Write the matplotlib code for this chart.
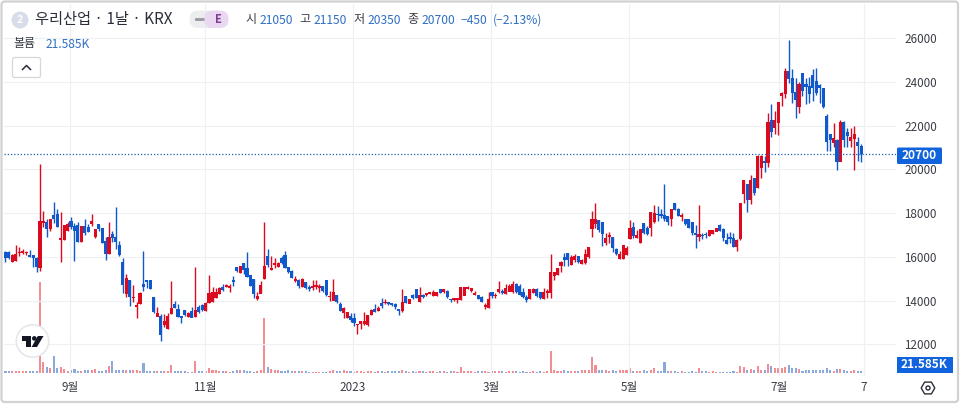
import matplotlib
matplotlib.use("Agg")
import matplotlib.pyplot as plt
from matplotlib.patches import Circle, FancyBboxPatch, Polygon, Rectangle
import numpy as np

plt.rcParams['font.family'] = ['Noto Sans CJK KR', 'DejaVu Sans']

# daily candles
open_p = [16210, 16210, 15790, 15830, 16170, 16210, 16170, 16090, 16060, 15950,
          15500, 17560, 17560, 17280, 17890, 17940, 16790, 16790, 17200, 17630,
          17390, 17430, 16700, 17400, 17360, 17510, 16900, 17470, 17330, 16720,
          16140, 17050, 16900, 16550, 15760, 14300, 14950, 14120, 13730, 13850,
          14760, 14950, 14930, 14150, 13280, 13280, 12890, 12730, 13390, 13850,
          13620, 13280, 13540, 13280, 13510, 13270, 13690, 13800, 13540, 13890,
          13950, 14150, 14300, 14610, 14660, 14600, 14950, 15530, 15270, 15710,
          15480, 15140, 14990, 14080, 14340, 14990, 16030, 15420, 15660, 15530,
          15940, 16090, 15530, 15330, 14930, 14950, 14630, 14840, 14610, 14600,
          14640, 14600, 14640, 14930, 14170, 14010, 14270, 13820, 13450, 13240,
          13270, 13220, 12880, 12960, 12960, 12880, 13360, 13600, 13530, 13880,
          13890, 13910, 13860, 13820, 13630, 13560, 14180, 13880, 14270, 14500,
          13940, 14260, 14270, 14320, 14240, 14210, 14500, 14410, 14440, 14080,
          14050, 14030, 14030, 14240, 14560, 14440, 14290, 14260, 14150, 13740,
          13660, 14370, 14230, 14400, 14430, 14300, 14430, 14430, 14750, 14640,
          14400, 14150, 14110, 14370, 14520, 14370, 14090, 14370, 14370, 15130,
          15200, 15620, 15970, 16170, 15630, 15890, 16010, 15690, 15740, 16000,
          17270, 17520, 17670, 17580, 16660, 16920, 16910, 16370, 15940, 15940,
          16100, 16830, 17350, 16890, 16660, 17550, 17320, 17320, 17600, 17950,
          17930, 17900, 17850, 17750, 18470, 18190, 17820, 17700, 17700, 17590,
          17060, 16920, 17010, 17040, 16970, 17070, 17170, 17440, 17240, 16780,
          16890, 16860, 16480, 16830, 18890, 19300, 18610, 19600, 19170, 20090,
          20390, 20290, 22220, 21880, 22140, 23350, 23450, 24500, 24160, 23520,
          22870, 24390, 23890, 23780, 24310, 24040, 23860, 23700, 22440, 21580,
          21210, 21350, 20360, 22150, 21680, 21300, 21400, 21230, 21050]
high_p = [16260, 16260, 16140, 16550, 16470, 16370, 16290, 16320, 16090, 15990,
          20260, 18120, 17740, 17740, 18500, 18200, 18050, 17430, 17590, 17820,
          17560, 17590, 17430, 17710, 17510, 17970, 17280, 17470, 17330, 16900,
          17590, 17200, 18270, 16750, 15940, 15200, 14950, 14720, 13920, 14380,
          16260, 14950, 14930, 14150, 13690, 13390, 13390, 13460, 14890, 14000,
          13850, 13310, 13570, 13500, 13690, 15530, 13800, 13850, 13920, 15180,
          14610, 14560, 14610, 14760, 14760, 14760, 15150, 15560, 15560, 15710,
          16240, 15180, 14990, 14380, 14920, 17590, 16370, 16030, 15950, 15760,
          16060, 16290, 15530, 15380, 15110, 14990, 15020, 14840, 14720, 14950,
          14950, 14760, 14670, 14930, 14440, 15010, 14270, 13950, 13710, 13480,
          13450, 13450, 12930, 13080, 13500, 13360, 13600, 13830, 13780, 14140,
          14060, 13950, 13880, 13910, 13630, 14550, 14210, 14060, 14320, 14520,
          14620, 14290, 14370, 14400, 14500, 14400, 14520, 14550, 14470, 14090,
          14140, 14140, 14640, 14640, 14670, 14590, 14440, 14260, 14210, 13880,
          14410, 14400, 14340, 14880, 14520, 14750, 14750, 14900, 14790, 14750,
          14590, 14240, 14550, 14590, 14590, 14400, 14590, 14520, 16120, 15310,
          15510, 15820, 16170, 16170, 16080, 16120, 16050, 15890, 16350, 16430,
          18115, 18470, 17700, 17580, 17090, 17130, 16910, 16400, 16280, 16520,
          16510, 17700, 17590, 17240, 17270, 17550, 17400, 18040, 18390, 18310,
          18190, 19340, 17850, 18190, 18470, 18240, 18010, 17730, 17700, 17590,
          17470, 18390, 17090, 17120, 17200, 17230, 17320, 17520, 17320, 17090,
          17130, 17090, 16830, 18470, 19480, 19300, 19720, 19600, 20640, 20640,
          20590, 22560, 22980, 22670, 23070, 23550, 24650, 25910, 24570, 24160,
          24010, 24390, 24160, 24240, 24590, 24620, 23890, 23730, 22520, 21580,
          22110, 21400, 22260, 22220, 21880, 21880, 21990, 21500, 21150]
low_p = [15790, 15900, 15790, 15830, 16030, 16140, 16090, 15980, 15530, 15300,
         15340, 17360, 16930, 17180, 17560, 17360, 15790, 16790, 17200, 17280,
         15830, 16700, 16700, 16980, 17130, 17400, 16870, 17200, 16640, 15880,
         16140, 16670, 16370, 16060, 14340, 14150, 13770, 13950, 13220, 13850,
         14460, 14560, 14550, 13460, 13280, 12170, 12780, 12730, 13390, 13650,
         13270, 12980, 13310, 13240, 13240, 13270, 13460, 13540, 13540, 13890,
         13950, 14120, 14300, 14460, 14610, 14380, 14690, 15330, 15270, 15220,
         15100, 14650, 14110, 14050, 14340, 14990, 15530, 15420, 15500, 15530,
         15680, 15500, 15270, 15040, 14840, 14560, 14630, 14530, 14440, 14470,
         14530, 14420, 14400, 14210, 13980, 14010, 13910, 13530, 13200, 13200,
         13020, 12840, 12470, 12690, 12910, 12850, 13330, 13480, 13530, 13680,
         13830, 13800, 13760, 13630, 13370, 13480, 13880, 13880, 14090, 14110,
         13940, 14140, 14210, 14290, 14210, 14210, 14340, 14370, 14110, 13940,
         13980, 13880, 14030, 14240, 14520, 14410, 14260, 14080, 13940, 13600,
         13660, 14120, 14120, 14370, 14320, 14290, 14430, 14370, 14370, 14240,
         14140, 13940, 14060, 14340, 14180, 14090, 14060, 14140, 14140, 14950,
         15170, 15310, 15590, 15590, 15620, 15770, 15740, 15660, 15660, 15970,
         16890, 17320, 17120, 16510, 16550, 16630, 16220, 16100, 15910, 15910,
         16100, 16810, 16860, 16860, 16630, 17040, 17010, 16940, 17550, 17630,
         17780, 17630, 17470, 17400, 18130, 17870, 17630, 17470, 17320, 17010,
         16430, 16710, 16830, 16860, 16940, 17040, 17170, 17170, 16740, 16590,
         16630, 16460, 16280, 16780, 18460, 18030, 18420, 18810, 19140, 19600,
         19860, 20130, 21500, 21610, 21580, 22910, 23280, 23930, 23020, 22340,
         22590, 23355, 22970, 23020, 23130, 23400, 23020, 22790, 20820, 20860,
         21000, 19950, 20360, 21040, 21040, 21040, 19980, 20360, 20350]
close_p = [15950, 15950, 16090, 16140, 16210, 16260, 16210, 16030, 15980, 15560,
           17630, 17630, 17280, 17740, 17740, 17400, 16850, 17430, 17470, 17360,
           17200, 16700, 17400, 17100, 17160, 17630, 17280, 17280, 16670, 16140,
           16900, 16880, 16700, 16090, 14750, 15040, 14180, 14150, 13770, 14350,
           14640, 14880, 14550, 13500, 13430, 12430, 13080, 13280, 13650, 13690,
           13270, 13240, 13340, 13430, 13240, 13540, 13490, 13590, 13890, 14350,
           14380, 14380, 14580, 14500, 14720, 14640, 14870, 15360, 15560, 15400,
           15100, 14690, 14300, 14200, 14700, 15570, 15630, 15500, 15710, 15720,
           15720, 15510, 15340, 15070, 14980, 14690, 14990, 14600, 14530, 14650,
           14690, 14650, 14440, 14290, 14210, 14370, 13940, 13560, 13650, 13480,
           13110, 12990, 12930, 13080, 13080, 13330, 13570, 13510, 13660, 13760,
           13940, 13860, 13820, 13710, 13560, 13910, 13910, 14060, 14140, 14140,
           14240, 14180, 14330, 14370, 14400, 14370, 14370, 14520, 14170, 14030,
           14090, 14090, 14620, 14610, 14610, 14550, 14320, 14110, 13970, 13790,
           14060, 14210, 14270, 14500, 14370, 14550, 14640, 14750, 14430, 14290,
           14170, 14030, 14520, 14520, 14210, 14140, 14400, 14410, 15280, 15310,
           15480, 15770, 15860, 15860, 16000, 16050, 15790, 15860, 16120, 16430,
           17730, 17700, 17240, 17060, 16860, 16970, 16430, 16140, 16130, 16510,
           16400, 17320, 16970, 17010, 17240, 17090, 17060, 18040, 17980, 17920,
           17870, 17750, 17630, 18190, 18160, 17900, 17880, 17500, 17350, 17090,
           17010, 17040, 16970, 17000, 17200, 17230, 17320, 17210, 16860, 16600,
           16830, 16480, 16740, 18470, 19480, 18610, 19480, 18950, 20590, 20590,
           20290, 22150, 21730, 22260, 23070, 23480, 24460, 24160, 23510, 23170,
           23890, 23580, 23780, 23450, 23730, 23520, 23730, 22870, 21240, 21350,
           21420, 20360, 22150, 21350, 21540, 21450, 21580, 21070, 20700]

# volume in thousands
volume_k = [20, 20, 16, 16, 16, 16, 16, 16, 16, 16,
            730, 88, 48, 40, 136, 40, 48, 32, 16, 24,
            32, 16, 16, 24, 24, 24, 32, 16, 16, 24,
            56, 96, 24, 24, 24, 24, 24, 24, 24, 16,
            80, 16, 16, 16, 16, 20, 16, 20, 64, 16,
            20, 16, 16, 12, 12, 96, 20, 16, 16, 40,
            24, 24, 16, 16, 16, 12, 20, 24, 24, 24,
            20, 16, 12, 16, 24, 445, 48, 32, 24, 24,
            16, 16, 24, 20, 20, 20, 16, 16, 12, 12,
            12, 12, 12, 12, 16, 24, 16, 16, 24, 16,
            16, 14, 16, 16, 14, 16, 16, 14, 16, 16,
            14, 16, 20, 16, 16, 24, 16, 14, 16, 14,
            16, 16, 14, 16, 16, 14, 16, 16, 14, 16,
            16, 14, 48, 20, 16, 16, 14, 16, 16, 16,
            14, 16, 16, 18, 16, 14, 16, 18, 16, 14,
            16, 14, 14, 16, 14, 16, 14, 16, 176, 28,
            20, 16, 24, 16, 20, 16, 20, 24, 24, 24,
            133, 64, 24, 24, 24, 20, 24, 20, 24, 24,
            24, 40, 20, 16, 16, 24, 16, 24, 40, 16,
            16, 88, 16, 20, 16, 14, 20, 12, 14, 16,
            12, 40, 16, 16, 12, 16, 14, 12, 14, 12,
            14, 16, 14, 56, 48, 24, 32, 24, 56, 24,
            24, 72, 56, 40, 40, 40, 48, 64, 40, 40,
            32, 16, 24, 24, 24, 24, 24, 24, 40, 24,
            16, 32, 32, 24, 16, 16, 24, 16, 21.585]

last_close = 20700
price_ticks = [12000, 14000, 16000, 18000, 20000, 22000, 24000, 26000]
date_ticks = [18.7, 57.8, 100.7, 140.7, 180.7, 224.2, 248.8]
date_labels = ['9월', '11월', '2023', '3월', '5월', '7월', '7']

RED = '#dc0a1e'
BLUE = '#1059cc'
GRID = '#eef0f3'
TEXT = '#3a3d45'
LINK = '#2f6fc4'
TAG = '#1063dc'

W, H = 960, 404
fig = plt.figure(figsize=(W / 100, H / 100), dpi=100, facecolor='white')
rect = [4 / W, 1 - 376 / H, 892 / W, 372 / H]

opens = np.array(open_p)
closes = np.array(close_p)
idx = np.arange(len(opens))
up = closes >= opens
xlim = (-0.43, 258.1)

# volume sits behind the candles on its own scale
vax = fig.add_axes(rect, zorder=1)
vax.bar(idx, volume_k, width=0.6, color=np.where(up, '#f28d93', '#8aa9dc'), linewidth=0)
vax.set_xlim(xlim)
vax.set_ylim(-21.6, 2954)
vax.axis('off')

ax = fig.add_axes(rect, zorder=2)
ax.patch.set_visible(False)
ax.vlines(idx, low_p, high_p, colors=np.where(up, RED, BLUE), linewidth=1.0, zorder=3)
ax.bar(idx, np.abs(closes - opens) + 25, bottom=np.minimum(opens, closes) - 12,
       width=0.9, color=np.where(up, RED, BLUE), linewidth=0, zorder=4)
ax.axhline(last_close, color='#1d5fb8', linewidth=0.9, linestyle=(0, (1, 1.6)), zorder=5)

ax.set_xlim(xlim)
ax.set_ylim(10561, 27553)
ax.yaxis.tick_right()
ax.set_yticks(price_ticks)
ax.set_xticks(date_ticks)
ax.set_xticklabels(date_labels)
ax.tick_params(axis='y', length=0, pad=6, labelsize=8.4, labelcolor=TEXT)
ax.tick_params(axis='x', length=0, pad=3.5, labelsize=8.4, labelcolor=TEXT)
ax.grid(True, color=GRID, linewidth=0.9, zorder=0)
ax.set_axisbelow(True)
for s in ax.spines.values():
    s.set_visible(False)

# overlay in pixel coordinates for the tv header and badges
ov = fig.add_axes([0, 0, 1, 1], zorder=3)
ov.set_xlim(0, W)
ov.set_ylim(H, 0)
ov.axis('off')
ov.patch.set_visible(False)

ov.add_patch(FancyBboxPatch((1.5, 1.5), 956.5, 400.5, boxstyle='round,pad=0,rounding_size=3',
                            fill=False, edgecolor='#d2d2d2', linewidth=1.6))

# symbol line
ov.add_patch(Circle((20, 20), 8.5, color='#d9dde9', linewidth=0))
ov.text(20, 20, '2', color='white', fontsize=7.5, ha='center', va='center', fontweight='bold')
ov.text(35, 19.5, '우리산업 · 1날 · KRX', color='#2a2e39', fontsize=11, va='center')
ov.add_patch(FancyBboxPatch((189.5, 10.5), 25, 17.5, boxstyle='round,pad=0,rounding_size=8.5',
                            facecolor='#ecedef', edgecolor='none'))
ov.add_patch(FancyBboxPatch((204, 10.5), 24.5, 17.5, boxstyle='round,pad=0,rounding_size=8.5',
                            facecolor='#ead7f0', edgecolor='none'))
ov.add_patch(Rectangle((209, 10.5), 8, 17.5, facecolor='#ead7f0', edgecolor='none'))
ov.add_patch(FancyBboxPatch((195, 18), 9.5, 3, boxstyle='round,pad=0,rounding_size=1',
                            facecolor='#9a9da5', edgecolor='none'))
ov.text(218, 19.5, 'E', color='#7b3f98', fontsize=8, ha='center', va='center', fontweight='bold')

# ohlc legend
for x, s, col in [(245, '시', TEXT), (259, '21050', LINK), (299, '고', TEXT), (313, '21150', LINK),
                  (353, '저', TEXT), (367, '20350', LINK), (407, '종', TEXT), (421, '20700', LINK),
                  (461, '−450', LINK), (493, '(−2.13%)', LINK)]:
    ov.text(x, 20, s, color=col, fontsize=8.7, va='center')

ov.text(13, 44, '볼륨', color=TEXT, fontsize=8.6, va='center')
ov.text(46, 44, '21.585K', color=LINK, fontsize=8.6, va='center')

# collapse button
ov.add_patch(FancyBboxPatch((12.5, 57.5), 28, 20, boxstyle='round,pad=0,rounding_size=2',
                            facecolor='white', edgecolor='#d5d7dc', linewidth=0.9))
ov.plot([22.5, 26.5, 30.5], [69.5, 65.5, 69.5], color='#2a2e39', linewidth=1.1)

# last value tags
ov.add_patch(FancyBboxPatch((897, 147.5), 45, 16.5, boxstyle='round,pad=0,rounding_size=1.5',
                            facecolor=TAG, edgecolor='none'))
ov.text(919.5, 155.5, '20700', color='white', fontsize=8.6, fontweight='bold', ha='center', va='center')
ov.add_patch(Rectangle((897, 357), 55.5, 16, facecolor=TAG, edgecolor='none'))
ov.text(924.5, 365, '21.585K', color='white', fontsize=8.6, fontweight='bold', ha='center', va='center')

# tradingview badge
ov.add_patch(Circle((32.5, 341), 16.2, facecolor='white', edgecolor='#e6e7ea', linewidth=1.2))
ov.add_patch(Polygon([(22, 336), (31, 336), (31, 347), (26, 347), (26, 341), (22, 341)],
                     color='#131722', linewidth=0))
ov.add_patch(Circle((34.3, 338.4), 2.3, color='#131722', linewidth=0))
ov.add_patch(Polygon([(37.8, 336), (43.5, 336), (37, 347), (31.6, 347)], color='#131722', linewidth=0))

# settings hexagon
t = np.deg2rad(np.arange(0, 360, 60))
ov.add_patch(Polygon(np.c_[928 + 6.8 * np.cos(t), 388 + 6.8 * np.sin(t)], fill=False,
                     edgecolor='#2a2e39', linewidth=1, joinstyle='round'))
ov.add_patch(Circle((928, 388), 2, fill=False, edgecolor='#2a2e39', linewidth=1))

fig.savefig('out.png', dpi=100)
